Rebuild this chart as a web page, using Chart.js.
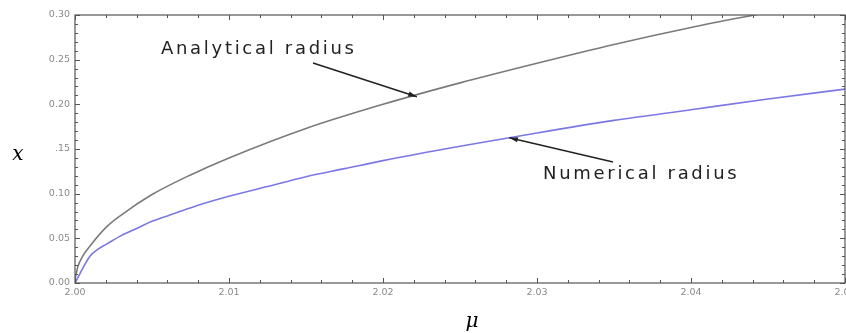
<!DOCTYPE html>
<html>
<head>
<meta charset="utf-8">
<script src="https://cdn.jsdelivr.net/npm/chart.js@4"></script>
<style>
  html, body { margin: 0; padding: 0; background: #fff; }
  #wrap { width: 846px; height: 333px; }
</style>
</head>
<body>
<div id="wrap"><canvas id="radiusChart" width="846" height="333"></canvas></div>
<script>
// values
const muA = [2.0, 2.0002, 2.0005, 2.001, 2.002, 2.003, 2.005, 2.0075, 2.01, 2.015, 2.02, 2.025, 2.03, 2.035, 2.04, 2.045, 2.05];
const analytical = [0.004, 0.019, 0.030, 0.042, 0.062, 0.076, 0.099, 0.121, 0.140, 0.173, 0.200, 0.224, 0.246, 0.267, 0.286, 0.303, 0.320];
const muN = [2.0, 2.00097, 2.0015, 2.002, 2.003, 2.004, 2.005, 2.0065, 2.008, 2.01, 2.0125, 2.015, 2.0175, 2.02, 2.025, 2.03, 2.035, 2.04, 2.045, 2.05];
const numerical = [0, 0.030, 0.038, 0.043, 0.053, 0.061, 0.069, 0.078, 0.087, 0.097, 0.108, 0.119, 0.128, 0.137, 0.153, 0.168, 0.182, 0.194, 0.206, 0.217];
const xTicks = [2.00, 2.01, 2.02, 2.03, 2.04, 2.05];
const xTickLabels = ['2.00', '2.01', '2.02', '2.03', '2.04', '2.05'];
const yTicks = [0, 0.05, 0.10, 0.15, 0.20, 0.25, 0.30];
const yTickLabels = ['0.00', '0.05', '0.10', '.15', '0.20', '0.25', '0.30'];

function toPoints(xs, ys) {
    return xs.map((m, i) => ({ x: m, y: ys[i] }));
}

function arrow(ctx, x1, y1, x2, y2) {
    const a = Math.atan2(y2 - y1, x2 - x1);
    ctx.beginPath();
    ctx.moveTo(x1, y1);
    ctx.lineTo(x2, y2);
    ctx.stroke();
    ctx.beginPath();
    ctx.moveTo(x2, y2);
    ctx.lineTo(x2 - 9 * Math.cos(a - 0.3), y2 - 9 * Math.sin(a - 0.3));
    ctx.lineTo(x2 - 9 * Math.cos(a + 0.3), y2 - 9 * Math.sin(a + 0.3));
    ctx.closePath();
    ctx.fill();
}

// Mathematica style frame: ticks pointing inward on all four sides
const framePlugin = {
    id: 'frame',
    afterDatasetsDraw(chart) {
        const ctx = chart.ctx;
        const xs = chart.scales.x, ys = chart.scales.y;
        const a = chart.chartArea;
        ctx.save();
        ctx.strokeStyle = '#555';
        ctx.lineWidth = 1.2;
        ctx.strokeRect(a.left, a.top, a.right - a.left, a.bottom - a.top);

        ctx.lineWidth = 1;
        // x ticks, minor every 0.002
        for (let i = 0; i <= 25; i++) {
            const v = 2.0 + i * 0.002;
            const px = Math.round(xs.getPixelForValue(v)) + 0.5;
            const len = i % 5 === 0 ? 5 : 3;
            ctx.beginPath();
            ctx.moveTo(px, a.bottom); ctx.lineTo(px, a.bottom - len);
            ctx.moveTo(px, a.top); ctx.lineTo(px, a.top + len);
            ctx.stroke();
        }
        // y ticks, minor every 0.01
        for (let i = 0; i <= 30; i++) {
            const v = i * 0.01;
            const py = Math.round(ys.getPixelForValue(v)) + 0.5;
            const len = i % 5 === 0 ? 5 : 3;
            ctx.beginPath();
            ctx.moveTo(a.left, py); ctx.lineTo(a.left + len, py);
            ctx.moveTo(a.right, py); ctx.lineTo(a.right - len, py);
            ctx.stroke();
        }

        // tick labels
        ctx.fillStyle = '#8a8a8a';
        ctx.font = '9.5px "DejaVu Sans"';
        ctx.textAlign = 'center';
        ctx.textBaseline = 'top';
        xTicks.forEach((v, i) => {
            ctx.fillText(xTickLabels[i], xs.getPixelForValue(v), a.bottom + 5);
        });
        ctx.textAlign = 'right';
        ctx.textBaseline = 'middle';
        yTicks.forEach((v, i) => {
            ctx.fillText(yTickLabels[i], a.left - 5, ys.getPixelForValue(v));
        });

        // axis titles
        ctx.fillStyle = '#000';
        ctx.font = 'italic 20px "DejaVu Serif"';
        ctx.textAlign = 'center';
        ctx.fillText('x', 18, 155);
        ctx.fillText('\u03bc', (a.left + a.right) / 2 + 12, 322);

        // annotations
        ctx.font = '18px "DejaVu Sans"';
        ctx.letterSpacing = '2.7px';
        ctx.textAlign = 'left';
        ctx.fillStyle = '#222';
        ctx.fillText('Analytical radius', 161, 49);
        ctx.fillText('Numerical radius', 543, 174);
        ctx.letterSpacing = '0px';
        ctx.strokeStyle = '#222';
        ctx.fillStyle = '#222';
        ctx.lineWidth = 1.5;
        arrow(ctx, 313, 63, xs.getPixelForValue(2.0222), ys.getPixelForValue(0.2085));
        arrow(ctx, 613, 162, xs.getPixelForValue(2.0282), ys.getPixelForValue(0.1625));
        ctx.restore();
    }
};

function initRadiusChart() {
    const ctx = document.getElementById('radiusChart').getContext('2d');
    new Chart(ctx, {
        type: 'line',
        data: {
            datasets: [
                {
                    label: 'Analytical radius',
                    data: toPoints(muA, analytical),
                    borderColor: '#7a7a7a',
                    borderWidth: 1.6,
                    pointRadius: 0,
                    cubicInterpolationMode: 'monotone',
                    fill: false
                },
                {
                    label: 'Numerical radius',
                    data: toPoints(muN, numerical),
                    borderColor: '#7b78e6',
                    borderWidth: 1.6,
                    pointRadius: 0,
                    cubicInterpolationMode: 'monotone',
                    fill: false
                }
            ]
        },
        options: {
            responsive: false,
            animation: false,
            layout: { padding: { left: 75, right: 1, top: 15, bottom: 50 } },
            plugins: { legend: { display: false }, tooltip: { enabled: false } },
            scales: {
                x: { type: 'linear', min: 2.0, max: 2.05, display: false },
                y: { type: 'linear', min: 0, max: 0.30, display: false }
            }
        },
        plugins: [framePlugin]
    });
}

window.onload = () => {
    initRadiusChart();
};
</script>
</body>
</html>
